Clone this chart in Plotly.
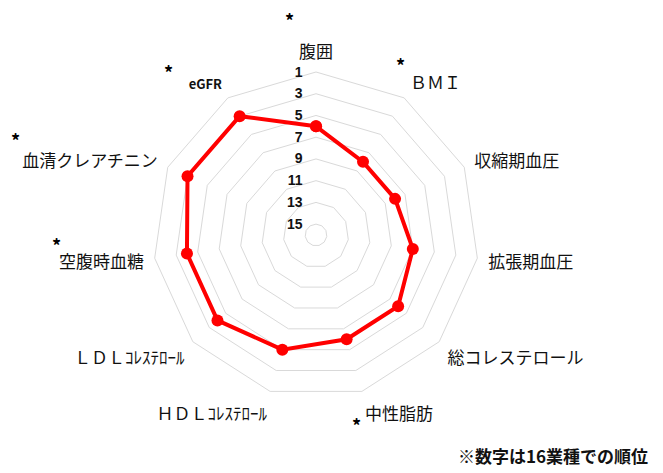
import plotly.graph_objects as go

categories = ["腹囲", "ＢＭＩ", "収縮期血圧", "拡張期血圧", "総コレステロール", "中性脂肪",
              "ＨＤＬｺﾚｽﾃﾛｰﾙ", "ＬＤＬｺﾚｽﾃﾛｰﾙ", "空腹時血糖", "血清クレアチニン", "eGFR"]
ranks = [6, 8, 8, 7, 6, 6, 5, 4, 4, 3, 3]
rank_ticks = [1, 3, 5, 7, 9, 11, 13, 15]
note = "※数字は16業種での順位"

# labels drawn a little differently from the plain category names
tick_text = ["腹囲", "ＢＭＩ", "収縮期血圧", "拡張期血圧",
             "総コレステロール", "中性脂肪",
             "ＨＤＬｺﾚｽﾃﾛｰﾙ", "ＬＤＬｺﾚｽﾃﾛｰﾙ",
             "空腹時血糖", "血清クレアチニン",
             "<b><span style='font-size:13px'>eGFR</span></b>"]

# asterisk marks (paper coords)
stars_x = [0.4305, 0.5985, 0.2443, 0.0107, 0.0748, 0.5313]
stars_y = [0.9742, 0.8774, 0.8624, 0.7161, 0.4903, 0.1032]

fig = go.Figure()
fig.add_trace(go.Scatterpolar(
    r=ranks + ranks[:1],
    theta=categories + categories[:1],
    mode="lines+markers",
    line=dict(color="#ff0000", width=4),
    marker=dict(color="#ff0000", size=12),
    showlegend=False,
))

for sx, sy in zip(stars_x, stars_y):
    fig.add_annotation(x=sx, y=sy, xref="paper", yref="paper", text="<b>*</b>",
                       xanchor="center", yanchor="middle",
                       showarrow=False, font=dict(size=18, color="#000"))

fig.add_annotation(x=0.9802, y=0.0387, xref="paper", yref="paper", text="<b>" + note + "</b>",
                   showarrow=False, xanchor="right", yanchor="middle",
                   font=dict(size=17, color="#111", family="Noto Sans CJK JP"))

# page body has an 8px margin, so the figure is 8px smaller than the window
fig.update_layout(
    width=655, height=465,
    margin=dict(l=0, r=0, t=0, b=0),
    paper_bgcolor="white",
    font=dict(family="Noto Sans CJK JP", color="#111"),
    polar=dict(
        domain=dict(x=[0.2214, 0.7191], y=[0.1613, 0.8624]),
        bgcolor="white",
        gridshape="linear",
        radialaxis=dict(
            range=[16, 1], tickvals=rank_ticks, angle=90, tickangle=90,
            side="counterclockwise", showline=False,
            ticks="outside", ticklen=8, tickcolor="rgba(0,0,0,0)",
            gridcolor="#d9d9d9", gridwidth=1,
            tickfont=dict(size=14, color="#111", family="Liberation Sans, Arial", weight="bold"),
        ),
        angularaxis=dict(
            rotation=90, direction="clockwise",
            categoryorder="array", categoryarray=categories,
            tickvals=categories, ticktext=tick_text,
            showgrid=False, showline=True, linecolor="#d9d9d9",
            ticks="outside", ticklen=7, tickcolor="rgba(0,0,0,0)",
            tickfont=dict(size=17, color="#111"),
        ),
    ),
)

fig.write_html("out.html")
